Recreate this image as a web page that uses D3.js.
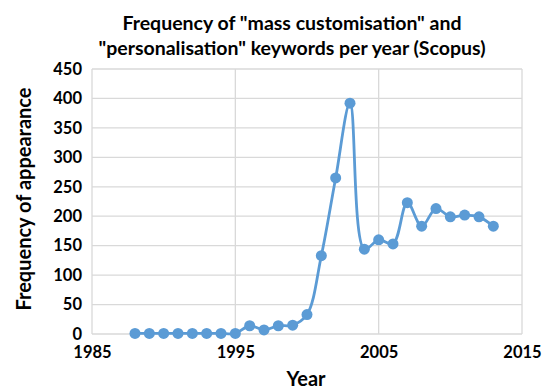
<!DOCTYPE html>
<html>
<head>
<meta charset="utf-8">
<script src="https://cdn.jsdelivr.net/npm/d3@7"></script>
<style>
  body { margin: 0; background: #fff; }
  svg { display: block; font-family: Lato, "Open Sans", sans-serif; }
</style>
</head>
<body>
<div id="chart"></div>
<script>
// Values
const years = [1988, 1989, 1990, 1991, 1992, 1993, 1994, 1995, 1996, 1997, 1998, 1999, 2000,
  2001, 2002, 2003, 2004, 2005, 2006, 2007, 2008, 2009, 2010, 2011, 2012, 2013];
const counts = [1, 1, 1, 1, 1, 1, 1, 1, 14, 7, 14, 15, 33,
  133, 265, 392, 144, 160, 153, 223, 183, 213, 199, 202, 199, 183];
const xTicks = [1985, 1995, 2005, 2015];
const yTicks = [0, 50, 100, 150, 200, 250, 300, 350, 400, 450];
const titleLines = ['Frequency of "mass customisation" and', '"personalisation" keywords per year (Scopus)'];

const width = 546, height = 389;
const margin = { top: 69, right: 24, bottom: 55, left: 92 };
const chartWidth = width - margin.left - margin.right;
const chartHeight = height - margin.top - margin.bottom;
const blue = '#5b9bd5';

const svg = d3.select('#chart').append('svg')
  .attr('width', width)
  .attr('height', height);

const g = svg.append('g')
  .attr('transform', `translate(${margin.left},${margin.top})`);

const x = d3.scaleLinear().domain([1985, 2015]).range([0, chartWidth]);
const y = d3.scaleLinear().domain([0, 450]).range([chartHeight, 0]);

// gridlines
g.append('g')
  .selectAll('line')
  .data(yTicks)
  .join('line')
  .attr('x1', 0).attr('x2', chartWidth)
  .attr('y1', d => y(d)).attr('y2', d => y(d))
  .attr('stroke', '#d9d9d9')
  .attr('stroke-width', 1.3);
g.append('g')
  .selectAll('line')
  .data(xTicks)
  .join('line')
  .attr('x1', d => x(d)).attr('x2', d => x(d))
  .attr('y1', 0).attr('y2', chartHeight)
  .attr('stroke', '#d9d9d9')
  .attr('stroke-width', 1.3);

// axes (labels only, Excel style)
const xAxis = g.append('g')
  .attr('transform', `translate(0,${chartHeight})`)
  .call(d3.axisBottom(x).tickValues(xTicks).tickFormat(d3.format('d')).tickSize(0).tickPadding(14));
const yAxis = g.append('g')
  .call(d3.axisLeft(y).tickValues(yTicks).tickSize(0).tickPadding(10));
[xAxis, yAxis].forEach(a => {
  a.select('.domain').remove();
  a.selectAll('text')
    .attr('fill', '#000')
    .style('font-size', '16.5px')
    .style('font-weight', 'bold')
    .style('font-family', 'Lato, sans-serif');
});
xAxis.selectAll('text').attr('dy', '0.6em');

// series
const line = d3.line()
  .x((d, i) => x(years[i]))
  .y(d => y(d))
  .curve(d3.curveCatmullRom.alpha(0.5));

g.append('path')
  .datum(counts)
  .attr('fill', 'none')
  .attr('stroke', blue)
  .attr('stroke-width', 2.8)
  .attr('d', line);

g.append('g')
  .selectAll('circle')
  .data(counts)
  .join('circle')
  .attr('cx', (d, i) => x(years[i]))
  .attr('cy', d => y(d))
  .attr('r', 5.5)
  .attr('fill', blue);

// titles
svg.append('text')
  .attr('text-anchor', 'middle')
  .style('font-size', '19.5px')
  .style('font-weight', 'bold')
  .attr('fill', '#000')
  .selectAll('tspan')
  .data(titleLines)
  .join('tspan')
  .attr('x', 292)
  .attr('y', (d, i) => 30 + i * 25)
  .text(d => d);

svg.append('text')
  .attr('x', 306)
  .attr('y', 386)
  .attr('text-anchor', 'middle')
  .style('font-size', '20px')
  .style('font-weight', 'bold')
  .text('Year');

svg.append('text')
  .attr('transform', 'translate(31,199) rotate(-90)')
  .attr('text-anchor', 'middle')
  .style('font-size', '20px')
  .style('font-weight', 'bold')
  .text('Frequency of appearance');
</script>
</body>
</html>
